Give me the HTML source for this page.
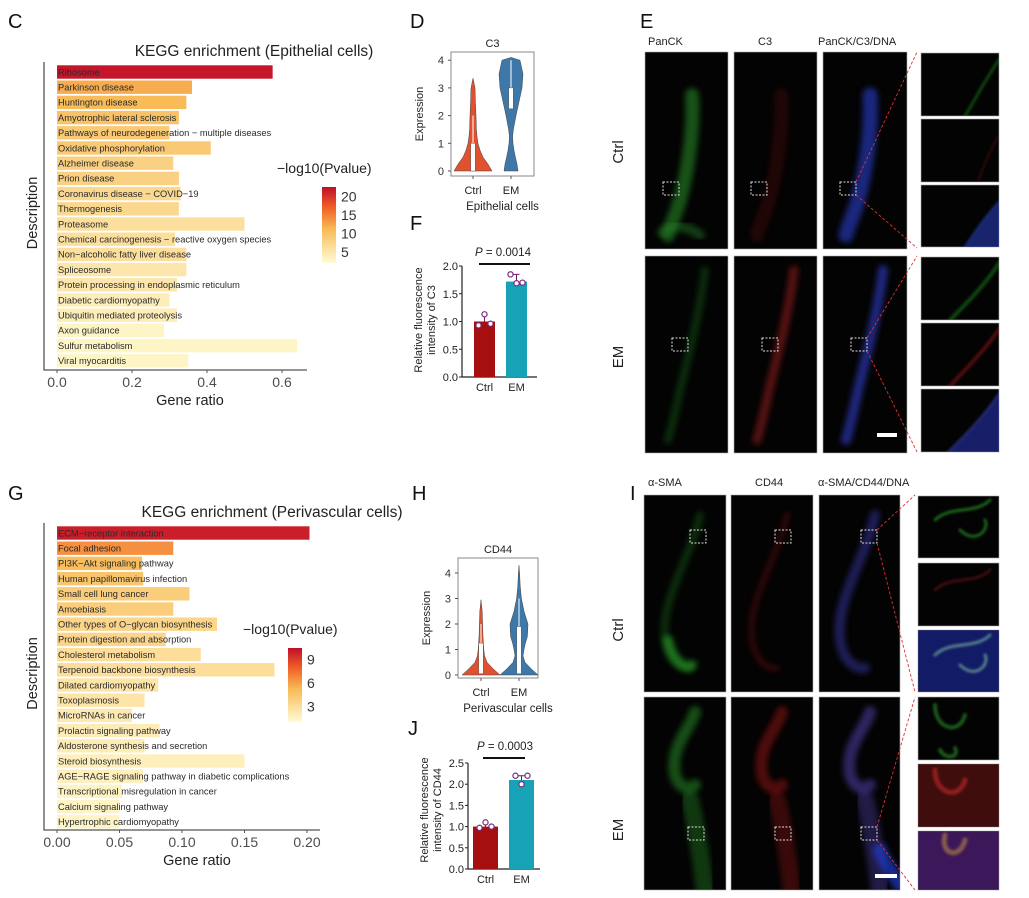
<!DOCTYPE html>
<html><head><meta charset="utf-8">
<style>
html,body{margin:0;padding:0;background:#fff;}
svg{display:block;font-family:"Liberation Sans",Arial,sans-serif;}
</style></head>
<body>
<svg id="fig" width="1029" height="898" viewBox="0 0 1029 898" xmlns="http://www.w3.org/2000/svg">
<defs>
<filter id="blur2" x="-50%" y="-50%" width="200%" height="200%"><feGaussianBlur stdDeviation="3"/></filter>
<filter id="blur1" x="-50%" y="-50%" width="200%" height="200%"><feGaussianBlur stdDeviation="1.4"/></filter>
<linearGradient id="cbarC" x1="0" y1="1" x2="0" y2="0">
<stop offset="0" stop-color="#FFFCD5"/><stop offset="0.45" stop-color="#F8B955"/><stop offset="0.75" stop-color="#EE5A25"/><stop offset="1" stop-color="#C00E2B"/></linearGradient>
</defs>
<g id="root"></g>
</svg>
<script>
// ---------- Panel C data ----------
const cTerms = ["Ribosome","Parkinson disease","Huntington disease","Amyotrophic lateral sclerosis","Pathways of neurodegeneration − multiple diseases","Oxidative phosphorylation","Alzheimer disease","Prion disease","Coronavirus disease − COVID−19","Thermogenesis","Proteasome","Chemical carcinogenesis − reactive oxygen species","Non−alcoholic fatty liver disease","Spliceosome","Protein processing in endoplasmic reticulum","Diabetic cardiomyopathy","Ubiquitin mediated proteolysis","Axon guidance","Sulfur metabolism","Viral myocarditis"];
const cRatio = [0.575,0.36,0.345,0.325,0.30,0.41,0.31,0.325,0.33,0.325,0.50,0.315,0.345,0.345,0.32,0.30,0.32,0.285,0.64,0.35];
const cLogP = [22,12,11,10,9,9,8,8,7,7,6,6,6,5,5,4,4,3,3,3];
const cXTicks = [0,0.2,0.4,0.6];
const cXTickLabels = ["0.0","0.2","0.4","0.6"];
const cLegTicks = [5,10,15,20];
// ---------- Panel G data ----------
const gTerms = ["ECM−receptor interaction","Focal adhesion","PI3K−Akt signaling pathway","Human papillomavirus infection","Small cell lung cancer","Amoebiasis","Other types of O−glycan biosynthesis","Protein digestion and absorption","Cholesterol metabolism","Terpenoid backbone biosynthesis","Dilated cardiomyopathy","Toxoplasmosis","MicroRNAs in cancer","Prolactin signaling pathway","Aldosterone synthesis and secretion","Steroid biosynthesis","AGE−RAGE signaling pathway in diabetic complications","Transcriptional misregulation in cancer","Calcium signaling pathway","Hypertrophic cardiomyopathy"];
const gRatio = [0.202,0.093,0.068,0.069,0.106,0.093,0.128,0.087,0.115,0.174,0.081,0.070,0.060,0.082,0.070,0.150,0.069,0.052,0.050,0.050];
const gLogP = [10,6.5,5,4.5,4,4,3.5,3.5,3,3,2.5,2.5,2.2,2,2,1.8,1.8,1.6,1.5,1.5];
const gXTicks = [0,0.05,0.10,0.15,0.20];
const gXTickLabels = ["0.00","0.05","0.10","0.15","0.20"];
const gLegTicks = [3,6,9];
// ---------- Violin data (D: C3, H: CD44) ----------
const violinLevels = [0,0.25,0.5,0.75,1,1.25,1.5,2,2.5,3,3.5,4,4.5];
const dCtrlDensity = [0.95,0.75,0.5,0.35,0.25,0.2,0.17,0.15,0.12,0.1,0,0,0];
const dCtrlMax = 3.35;
const dEmDensity = [0.35,0.3,0.22,0.15,0.1,0.08,0.12,0.25,0.4,0.55,0.6,0.45,0];
const dEmMax = 4.1;
const dBox = {ctrl:[0,1,2], em:[2.25,3,4]};
const hCtrlDensity = [0.95,0.6,0.3,0.18,0.14,0.12,0.1,0.08,0.06,0.03,0,0,0];
const hCtrlMax = 2.95;
const hEmDensity = [0.95,0.6,0.3,0.2,0.25,0.32,0.42,0.45,0.25,0.12,0.06,0.03,0.01];
const hEmMax = 4.3;
const hBox = {ctrl:[0.05,1.25,2], em:[0.05,1.9,3]};
// ---------- Bar data (F, J) ----------
const fGroups = ["Ctrl","EM"];
const fMeans = [1.0,1.72];
const fPoints = [[0.93,1.13,0.96],[1.85,1.69,1.70]];
const jMeans = [1.0,2.1];
const jPoints = [[0.97,1.10,1.0],[2.2,2.0,2.2]];

const NS="http://www.w3.org/2000/svg";
const root=document.getElementById('root');
function mk(tag,attrs,parent,text){const e=document.createElementNS(NS,tag);for(const k in attrs)e.setAttribute(k,attrs[k]);if(text!==undefined)e.textContent=text;(parent||root).appendChild(e);return e;}

function hex(c){return [parseInt(c.slice(1,3),16),parseInt(c.slice(3,5),16),parseInt(c.slice(5,7),16)];}
const stops=[[0,"#FFFCD5"],[0.45,"#F8B955"],[0.75,"#EE5A25"],[1,"#C00E2B"]];
function colorAt(t){t=Math.max(0,Math.min(1,t));for(let i=0;i<stops.length-1;i++){if(t<=stops[i+1][0]){const a=hex(stops[i][1]),b=hex(stops[i+1][1]);const u=(t-stops[i][0])/(stops[i+1][0]-stops[i][0]);return "rgb("+a.map((v,j)=>Math.round(v+(b[j]-v)*u)).join(",")+")";}}return stops[3][1];}

// panel letters
[["C",8,28],["D",410,28],["E",640,28],["F",410,230],["G",8,500],["H",412,500],["I",630,500],["J",408,735]].forEach(l=>{
 const t=mk('text',{x:l[1],y:l[2],'font-size':20,fill:'#111'},root,l[0]);
 
 
});

function kegg(opt){
 const g=mk('g',{});
 
 
 const x0=opt.x0,xs=v=>x0+v*opt.pxPerUnit;
 const yb=i=>opt.y0+i*opt.step;
 const t=mk('text',{x:opt.titleX,y:opt.titleY,'font-size':15.5,'text-anchor':'middle',fill:'#222'},g,opt.title);
 
 
 opt.terms.forEach((term,i)=>{
  const r=mk('rect',{x:x0,y:yb(i)-6.7,width:xs(opt.ratio[i])-x0,height:13.4,fill:colorAt((opt.logp[i]-opt.pMin)/(opt.pMax-opt.pMin))},g);
  
  
  const tx=mk('text',{x:x0+1,y:yb(i)+3.3,'font-size':9.3,fill:'#2a2a2a'},g,term);
  
  
 });
 const ax=mk('path',{d:`M44 ${opt.y0-10} V${opt.axisY} H${opt.axisEnd}`,stroke:'#555',fill:'none','stroke-width':1.3},g);
 
 
 opt.ticks.forEach((v,i)=>{
  const tk=mk('line',{x1:xs(v),x2:xs(v),y1:opt.axisY,y2:opt.axisY+3,stroke:'#555'},g);
  
  
  const tl=mk('text',{x:xs(v),y:opt.axisY+17,'font-size':14,'text-anchor':'middle',fill:'#4d4d4d'},g,opt.tickLabels[i]);
  
  
 });
 const xt=mk('text',{x:opt.xTitleX,y:opt.axisY+35,'font-size':14.5,'text-anchor':'middle',fill:'#222'},g,'Gene ratio');
 
 
 const cy=(opt.y0+opt.axisY)/2-8;
 const yt=mk('text',{x:0,y:0,'font-size':14.5,'text-anchor':'middle',fill:'#222',transform:`translate(37 ${cy}) rotate(-90)`},g,'Description');
 
 
 const lt=mk('text',{x:opt.legX-45,y:opt.legY-14,'font-size':14,fill:'#222'},g,'−log10(Pvalue)');
 
 
 const cb=mk('rect',{x:opt.legX,y:opt.legY,width:14,height:opt.legH,fill:'url(#cbarC)'},g);
 
 
 opt.legTicks.forEach(v=>{
  const yy=opt.legY+opt.legH*(1-(v-opt.pMin)/(opt.pMax-opt.pMin));
  const lt2=mk('text',{x:opt.legX+19,y:yy+5,'font-size':14,fill:'#333'},g,String(v));
  
  
 });
}
kegg({name:'kegg-epithelial-chart',terms:cTerms,ratio:cRatio,logp:cLogP,pMin:2,pMax:22.5,x0:57,pxPerUnit:375,y0:72,step:15.2,axisY:370,axisEnd:307,ticks:cXTicks,tickLabels:cXTickLabels,title:'KEGG enrichment (Epithelial cells)',titleX:254,titleY:56,xTitleX:190,legX:322,legY:187,legH:76,legTicks:cLegTicks});
kegg({name:'kegg-perivascular-chart',terms:gTerms,ratio:gRatio,logp:gLogP,pMin:1,pMax:10.5,x0:57,pxPerUnit:1250,y0:533,step:15.2,axisY:830,axisEnd:320,ticks:gXTicks,tickLabels:gXTickLabels,title:'KEGG enrichment (Perivascular cells)',titleX:272,titleY:517,xTitleX:197,legX:288,legY:648,legH:74,legTicks:gLegTicks});

function violin(opt){
 const g=mk('g',{});
 
 
 const ys=v=>opt.y0-v*opt.pxPerUnit;
 const fr=mk('rect',{x:opt.bx,y:opt.by,width:opt.bw,height:opt.bh,fill:'none',stroke:'#888','stroke-width':1},g);
 
 
 const tt=mk('text',{x:opt.bx+opt.bw/2,y:opt.by-5,'font-size':11,'text-anchor':'middle',fill:'#222'},g,opt.title);
 
 
 opt.yTicks.forEach(v=>{
  const tk=mk('line',{x1:opt.bx-3,x2:opt.bx,y1:ys(v),y2:ys(v),stroke:'#555'},g);
  
  
  const tl=mk('text',{x:opt.bx-7,y:ys(v)+4,'font-size':11,'text-anchor':'end',fill:'#333'},g,String(v));
  
  
 });
 const yl=mk('text',{x:0,y:0,'font-size':11,'text-anchor':'middle',fill:'#222',transform:`translate(${opt.bx-28} ${opt.by+opt.bh/2}) rotate(-90)`},g,'Expression');
 
 
 opt.series.forEach((s,k)=>{
  const cx=opt.cx[k];
  const pts=[];
  violinLevels.forEach((lv,i)=>{if(lv<s.max)pts.push([lv,s.dens[i]]);});
  pts.push([s.max,0]);
  let d='M'+cx+' '+ys(0);
  pts.forEach(p=>{d+=' L'+(cx+p[1]*opt.hw)+' '+ys(p[0]);});
  for(let i=pts.length-1;i>=0;i--){d+=' L'+(cx-pts[i][1]*opt.hw)+' '+ys(pts[i][0]);}
  d+='Z';
  const vp=mk('path',{d:d,fill:s.color,stroke:'#444','stroke-width':0.5,'stroke-linejoin':'round'},g);
  
  
  const wl=mk('line',{x1:cx,x2:cx,y1:ys(s.box[1]),y2:ys(s.box[2]),stroke:'#fff','stroke-width':1},g);
  
  
  const bx=mk('rect',{x:cx-2.3,y:ys(s.box[1]),width:4.6,height:ys(s.box[0])-ys(s.box[1]),fill:'#fff',stroke:'#444','stroke-width':0.4},g);
  
  
  const xl=mk('text',{x:cx,y:opt.by+opt.bh+18,'font-size':11,'text-anchor':'middle',fill:'#222'},g,s.label);
  
  
  const xk=mk('line',{x1:cx,x2:cx,y1:opt.by+opt.bh,y2:opt.by+opt.bh+3,stroke:'#555'},g);
  
  
 });
 const xt=mk('text',{x:opt.bx+opt.bw/2+10,y:opt.by+opt.bh+34,'font-size':11.5,'text-anchor':'middle',fill:'#222'},g,opt.xTitle);
 
 
}
violin({name:'violin-c3',bx:451,by:52,bw:83,bh:124,y0:171,pxPerUnit:27.7,hw:20,cx:[473,511],title:'C3',xTitle:'Epithelial cells',yTicks:[0,1,2,3,4],
 series:[{label:'Ctrl',dens:dCtrlDensity,max:dCtrlMax,color:'#E0522F',box:dBox.ctrl},{label:'EM',dens:dEmDensity,max:dEmMax,color:'#3E78A8',box:dBox.em}]});
violin({name:'violin-cd44',bx:458,by:558,bw:80,bh:120,y0:675,pxPerUnit:25.5,hw:20,cx:[481,519],title:'CD44',xTitle:'Perivascular cells',yTicks:[0,1,2,3,4],
 series:[{label:'Ctrl',dens:hCtrlDensity,max:hCtrlMax,color:'#E0522F',box:hBox.ctrl},{label:'EM',dens:hEmDensity,max:hEmMax,color:'#3E78A8',box:hBox.em}]});

function barPanel(opt){
 const g=mk('g',{});
 
 
 const ys=v=>opt.y0-v*opt.pxPerUnit;
 const ax=mk('path',{d:`M${opt.ax} ${ys(opt.yMax)} V${opt.y0} H${opt.axEnd}`,stroke:'#222',fill:'none','stroke-width':1.2},g);
 
 
 opt.yTicks.forEach(v=>{
  const tk=mk('line',{x1:opt.ax-3,x2:opt.ax,y1:ys(v),y2:ys(v),stroke:'#222'},g);
  
  
  const tl=mk('text',{x:opt.ax-4,y:ys(v)+4,'font-size':11,'text-anchor':'end',fill:'#222'},g,v.toFixed(1));
  
  
 });
 const colors=['#A50F0F','#17A2B8'];
 fGroups.forEach((gr,k)=>{
  const x=opt.barX[k];
  const b=mk('rect',{x:x,y:ys(opt.means[k]),width:opt.bw,height:opt.y0-ys(opt.means[k]),fill:colors[k]},g);
  
  
  const mx=Math.max(...opt.points[k]);
  const eb=mk('path',{d:`M${x+opt.bw/2} ${ys(opt.means[k])} V${ys(mx)} M${x+opt.bw/2-3} ${ys(mx)} H${x+opt.bw/2+3}`,stroke:'#6a1a6a','stroke-width':1},g);
  
  
  opt.points[k].forEach((p,j)=>{
   const c=mk('circle',{cx:x+opt.bw/2+(j-1)*6,cy:ys(p),r:2.6,fill:'#fff',stroke:'#7a2a7a','stroke-width':1.2},g);
   
   
  });
  const xl=mk('text',{x:x+opt.bw/2,y:opt.y0+14,'font-size':11,'text-anchor':'middle',fill:'#222'},g,gr);
  
  
 });
 const pl=mk('text',{x:opt.pX,y:opt.pY,'font-size':11.5,'text-anchor':'middle',fill:'#222'},g);
 
 
 mk('tspan',{'font-style':'italic'},pl,'P');
 mk('tspan',{},pl,' = '+opt.p);
 const ln=mk('line',{x1:opt.lineX[0],x2:opt.lineX[1],y1:opt.pY+8,y2:opt.pY+8,stroke:'#111','stroke-width':2},g);
 
 
 const yt=mk('text',{x:0,y:0,'font-size':11,'text-anchor':'middle',fill:'#222',transform:`translate(${opt.ax-40} ${opt.yTitleY}) rotate(-90)`},g);
 
 
 mk('tspan',{x:0,dy:0},yt,'Relative fluorescence');
 mk('tspan',{x:0,dy:13},yt,'intensity of '+opt.marker);
}
barPanel({name:'bar-chart-c3',ax:462,axEnd:537,y0:377,pxPerUnit:55.5,yMax:2.0,yTicks:[0,0.5,1,1.5,2],barX:[474,506],bw:21,means:fMeans,points:fPoints,p:'0.0014',pX:503,pY:256,lineX:[479,530],marker:'C3',yTitleY:320});
barPanel({name:'bar-chart-cd44',ax:468,axEnd:540,y0:869,pxPerUnit:42.4,yMax:2.5,yTicks:[0,0.5,1,1.5,2,2.5],barX:[473,509],bw:25,means:jMeans,points:jPoints,p:'0.0003',pX:505,pY:750,lineX:[483,525],marker:'CD44',yTitleY:810});

// ---------- Microscopy panels ----------
function micro(name,x,y,w,h,shapes){
 const g=mk('g',{});
 
 
 const cp='cp'+name;
 const c=mk('clipPath',{id:cp},g);mk('rect',{x:x,y:y,width:w,height:h},c);
 const bg=mk('rect',{x:x,y:y,width:w,height:h,fill:'#030303',stroke:'#aaa','stroke-width':0.6},g);
 
 
 const inner=mk('g',{'clip-path':`url(#${cp})`},g);
 (shapes||[]).forEach(s=>{
  const p=mk('path',{d:s.d,stroke:s.c,'stroke-width':s.w,fill:s.f||'none','stroke-linecap':'round','stroke-linejoin':'round',opacity:(s.o||1)*0.7,filter:'url(#'+(s.b||'blur2')+')'},inner);
  
  
 });
 return g;
}
function dashBox(x,y){const r=mk('rect',{x:x,y:y,width:16,height:13,fill:'none',stroke:'#ddd','stroke-width':1,'stroke-dasharray':'2 1.5'});
 
 }
function redLine(x1,y1,x2,y2){const l=mk('line',{x1:x1,y1:y1,x2:x2,y2:y2,stroke:'#e03030','stroke-width':0.9,'stroke-dasharray':'3 2'});
 
 }
function label(txt,x,y,rot,name,anchor){const t=mk('text',{x:rot?0:x,y:rot?0:y,'font-size':rot?15:11,'text-anchor':anchor||'start',fill:'#222',transform:rot?`translate(${x} ${y}) rotate(-90)`:''},root,txt);
 
 }

// E panel
label('PanCK',648,45,false,'column-label-panck');
label('C3',758,45,false,'column-label-c3');
label('PanCK/C3/DNA',818,45,false,'column-label-merge');
label('Ctrl',623,152,true,'row-label-ctrl','middle');
label('EM',623,357,true,'row-label-em','middle');
const eTopBand='M692 95 C694 130 688 170 680 200 C676 215 670 225 668 235';
const eBotBand='M705 270 C700 310 690 350 680 390 C676 410 672 425 668 440';
micro('e-ctrl-panck',645,52,83,197,[{d:eTopBand,c:'#2a9a2a',w:14,o:0.75},{d:'M662 232 Q680 220 700 235',c:'#2a8a2a',w:10,o:0.6}]);
micro('e-ctrl-c3',734,52,83,197,[{d:'M781 95 C783 130 777 170 769 200 C765 215 759 225 757 235',c:'#5a1010',w:14,o:0.5}]);
micro('e-ctrl-merge',823,52,84,197,[{d:'M870 95 C872 130 866 170 858 200 C854 215 848 225 846 235',c:'#2a40d0',w:15,o:0.85}]);
micro('e-em-panck',645,256,83,197,[{d:eBotBand,c:'#1e7a1e',w:8,o:0.5}]);
micro('e-em-c3',734,256,83,197,[{d:'M794 270 C789 310 779 350 769 390 C765 410 761 425 757 440',c:'#b02020',w:9,o:0.7}]);
micro('e-em-merge',823,256,84,197,[{d:'M883 270 C878 310 868 350 858 390 C854 410 850 425 846 440',c:'#3040d0',w:10,o:0.85}]);
micro('e-ctrl-zoom-green',921,53,78,63,[{d:'M999 60 C985 80 975 100 965 116',c:'#1e8a1e',w:3,o:0.7,b:'blur1'}]);
micro('e-ctrl-zoom-red',921,119,78,63,[{d:'M999 135 C990 150 982 170 978 182',c:'#501010',w:3,o:0.6,b:'blur1'}]);
micro('e-ctrl-zoom-merge',921,185,78,62,[{d:'M1010 190 C990 210 975 230 960 255 L1010 255Z',c:'#3050d0',w:2,f:'#2a40c0',o:0.8,b:'blur1'}]);
micro('e-em-zoom-green',921,257,78,63,[{d:'M1000 262 C985 285 965 305 950 320',c:'#1e8a1e',w:4,o:0.7,b:'blur1'}]);
micro('e-em-zoom-red',921,323,78,63,[{d:'M1000 328 C985 350 965 370 950 386',c:'#a01818',w:4,o:0.7,b:'blur1'}]);
micro('e-em-zoom-merge',921,389,78,63,[{d:'M1000 392 C985 415 965 435 945 455 L1005 455Z',c:'#4050d0',w:2,f:'#2a36b8',o:0.8,b:'blur1'}]);
dashBox(663,182);dashBox(751,182);dashBox(840,182);
dashBox(672,338);dashBox(762,338);dashBox(851,338);
redLine(856,182,917,52);redLine(856,195,917,248);
redLine(867,338,917,256);redLine(867,351,917,452);
const sb1=mk('rect',{x:877,y:433,width:20,height:4,fill:'#fff'});



// I panel
label('α-SMA',648,486,false,'column-label-asma');
label('CD44',755,486,false,'column-label-cd44');
label('α-SMA/CD44/DNA',818,486,false,'column-label-merge-i');
label('Ctrl',623,630,true,'row-label-ctrl-i','middle');
label('EM',623,830,true,'row-label-em-i','middle');
const crescent=(dx)=>`M${700+dx} 515 C${690+dx} 560 ${660+dx} 600 ${665+dx} 640 C${668+dx} 660 ${680+dx} 670 ${690+dx} 668`;
micro('i-ctrl-asma',644,495,82,197,[{d:crescent(0),c:'#1e7a1e',w:8,o:0.5},{d:'M668 640 C672 660 685 670 692 665',c:'#2aa02a',w:10,o:0.9}]);
micro('i-ctrl-cd44',731,495,82,197,[{d:crescent(87),c:'#601010',w:7,o:0.6}]);
micro('i-ctrl-merge',819,495,81,197,[{d:crescent(175),c:'#3a3ab0',w:10,o:0.7}]);
const blobs=(dx,c1)=>[{d:`M${695+dx} 712 C${690+dx} 730 ${670+dx} 745 ${675+dx} 775 C${680+dx} 790 ${690+dx} 790 ${695+dx} 785`,c:c1,w:12,o:0.7},{d:`M${690+dx} 800 C${695+dx} 820 ${700+dx} 850 ${705+dx} 890`,c:c1,w:18,o:0.5}];
micro('i-em-asma',644,697,82,193,blobs(0,'#2a9a2a'));
micro('i-em-cd44',731,697,82,193,blobs(87,'#a01818'));
micro('i-em-merge',819,697,81,193,blobs(175,'#5a4ac0').concat([{d:'M880 850 C885 865 895 875 900 885',c:'#2040e0',w:14,o:0.9}]));
micro('i-ctrl-zoom-green',918,496,81,62,[{d:'M935 520 C950 505 975 515 990 500 M960 530 C975 545 990 530 985 520',c:'#2aa02a',w:3,o:0.9,b:'blur1'}]);
micro('i-ctrl-zoom-red',918,563,81,63,[{d:'M935 590 C950 575 975 585 990 570',c:'#701818',w:3,o:0.8,b:'blur1'}]);
micro('i-ctrl-zoom-merge',918,630,81,62,[{d:'M918 630 H999 V692 H918Z',c:'#1a2aa0',w:1,f:'#1a2aa0',o:0.9,b:'blur1'},{d:'M935 655 C950 640 975 650 990 635 M960 665 C975 680 990 665 985 655',c:'#80c0a0',w:3,o:0.9,b:'blur1'}]);
micro('i-em-zoom-green',918,697,81,63,[{d:'M935 705 C935 730 960 735 965 715 M940 750 C945 760 960 758 955 748',c:'#2a8a2a',w:4,o:0.9,b:'blur1'}]);
micro('i-em-zoom-red',918,764,81,63,[{d:'M918 764 H999 V827 H918Z',c:'#601010',w:1,f:'#701414',o:0.8,b:'blur1'},{d:'M935 770 C935 795 960 800 965 780',c:'#d02a2a',w:5,o:0.8,b:'blur1'}]);
micro('i-em-zoom-merge',918,831,81,59,[{d:'M918 831 H999 V890 H918Z',c:'#6a2aa0',w:1,f:'#6a2aa0',o:0.8,b:'blur1'},{d:'M945 835 C940 855 960 860 965 840',c:'#c09040',w:5,o:0.8,b:'blur1'}]);
dashBox(690,530);dashBox(775,530);dashBox(861,530);
dashBox(688,827);dashBox(775,827);dashBox(861,827);
redLine(877,530,915,495);redLine(877,543,915,692);
redLine(877,827,915,697);redLine(877,840,915,890);
const sb2=mk('rect',{x:875,y:874,width:22,height:4,fill:'#fff'});


</script>
</body></html>
